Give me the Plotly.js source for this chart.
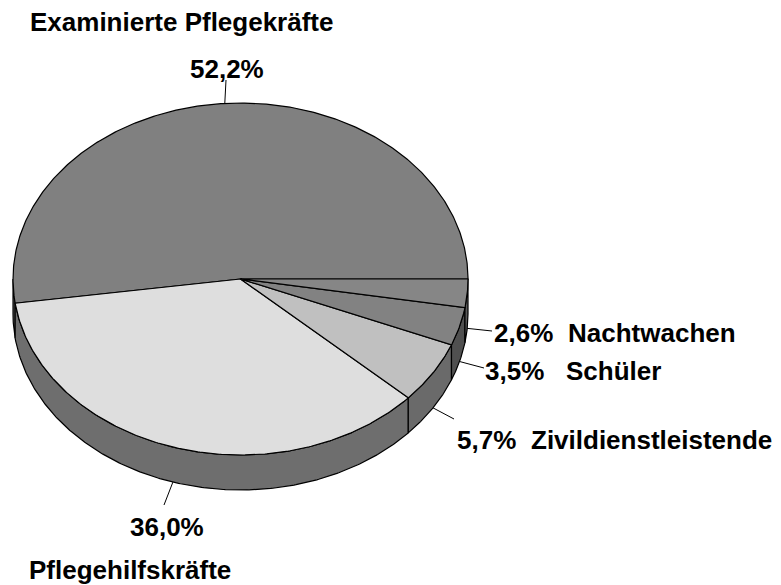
<!DOCTYPE html>
<html>
<head>
<meta charset="utf-8">
<script src="https://cdn.plot.ly/plotly-3.0.1.min.js"></script>
<style>html,body{margin:0;padding:0;background:#fff;}#chart{width:781px;height:585px;}</style>
</head>
<body>
<div id="chart"></div>
<script>
// ---- data ----
const categories = ['Examinierte Pflegekräfte', 'Pflegehilfskräfte', 'Zivildienstleistende', 'Schüler', 'Nachtwachen'];
const values = [52.2, 36.0, 5.7, 3.5, 2.6];

// ---- styles ----
const topColors = ['#808080', '#dedede', '#c0c0c0', '#828282', '#868686'];
const wallColors = ['#5e5e5e', '#6e6e6e', '#6a6a6a', '#505050', '#5a5a5a'];

// ---- geometry of the tilted pie (pixel units) ----
const CX = 240.5, CY = 279, RX = 227.5, RY = 176, DEPTH = 35;
const W = 781, H = 585;
const FONT = 'Liberation Sans, Arial, sans-serif';
const FS = 26;

// label placement: percent label, name label, leader end
const labelLayout = [
  {pct: [188, 69], name: null, end: [226, 80]},
  {pct: [128, 527], name: [27, 570], end: [164, 505]},
  {pct: [455, 440], name: [529, 440], end: [454, 419]},
  {pct: [483, 371], name: [564, 371], end: [484, 368]},
  {pct: [492, 333], name: [566, 333], end: [492, 331]}
];

function pt(deg, dy) {
  const r = deg * Math.PI / 180;
  return [CX + RX * Math.cos(r), CY - RY * Math.sin(r) + (dy || 0)];
}
function arc(a, b, dy) {
  const pts = [];
  const n = Math.max(2, Math.ceil(Math.abs(b - a) / 0.5));
  for (let i = 0; i <= n; i++) pts.push(pt(a + (b - a) * i / n, dy));
  return pts;
}

const total = values.reduce((s, v) => s + v, 0);
const slices = [];
let acc = 0;
values.forEach((v, i) => {
  const a = acc / total * 360;
  acc += v;
  const b = acc / total * 360;
  slices.push({a, b, mid: (a + b) / 2, i});
});

const traces = [];
// side walls (front half only: 180..360 degrees)
slices.forEach(s => {
  const a = Math.max(s.a, 180), b = Math.min(s.b, 360);
  if (b <= a) return;
  const top = arc(a, b, 0);
  const bot = arc(b, a, DEPTH);
  const poly = top.concat(bot);
  poly.push(top[0]);
  traces.push({
    type: 'scatter', mode: 'lines', fill: 'toself',
    x: poly.map(p => p[0]), y: poly.map(p => p[1]),
    fillcolor: wallColors[s.i], line: {color: '#000', width: 1.2},
    hoverinfo: 'skip', showlegend: false
  });
});
// top faces
slices.forEach(s => {
  const poly = [[CX, CY]].concat(arc(s.a, s.b, 0));
  poly.push([CX, CY]);
  traces.push({
    type: 'scatter', mode: 'lines', fill: 'toself',
    x: poly.map(p => p[0]), y: poly.map(p => p[1]),
    fillcolor: topColors[s.i], line: {color: '#000', width: 1.2},
    hoverinfo: 'skip', showlegend: false, name: categories[s.i]
  });
});
// leader lines
slices.forEach(s => {
  const front = s.mid > 180 && s.mid < 360;
  const start = pt(s.mid, front ? DEPTH : 0);
  const end = labelLayout[s.i].end;
  traces.push({
    type: 'scatter', mode: 'lines',
    x: [start[0], end[0]], y: [start[1], end[1]],
    line: {color: '#000', width: 1},
    hoverinfo: 'skip', showlegend: false
  });
});

const annotations = [];
slices.forEach(s => {
  const L = labelLayout[s.i];
  annotations.push({
    x: L.pct[0], y: L.pct[1], xref: 'x', yref: 'y', xanchor: 'left', yanchor: 'middle',
    text: '<b>' + values[s.i].toFixed(1).replace('.', ',') + '%</b>', showarrow: false,
    font: {family: FONT, size: FS, color: '#000'}
  });
  if (L.name) {
    annotations.push({
      x: L.name[0], y: L.name[1], xref: 'x', yref: 'y', xanchor: 'left', yanchor: 'middle',
      text: '<b>' + categories[s.i] + '</b>', showarrow: false,
      font: {family: FONT, size: FS, color: '#000'}
    });
  }
});

const layout = {
  width: W, height: H,
  margin: {l: 0, r: 0, t: 0, b: 0},
  paper_bgcolor: '#fff', plot_bgcolor: '#fff',
  showlegend: false,
  title: {
    text: '<b>' + categories[0] + '</b>',
    x: 30 / W, xanchor: 'left', xref: 'paper',
    y: 1 - 22 / H, yanchor: 'middle', yref: 'paper',
    font: {family: FONT, size: FS, color: '#000'}
  },
  xaxis: {range: [0, W], visible: false, fixedrange: true},
  yaxis: {range: [H, 0], visible: false, fixedrange: true},
  annotations: annotations
};

Plotly.newPlot('chart', traces, layout, {staticPlot: true, displayModeBar: false});
</script>
</body>
</html>
